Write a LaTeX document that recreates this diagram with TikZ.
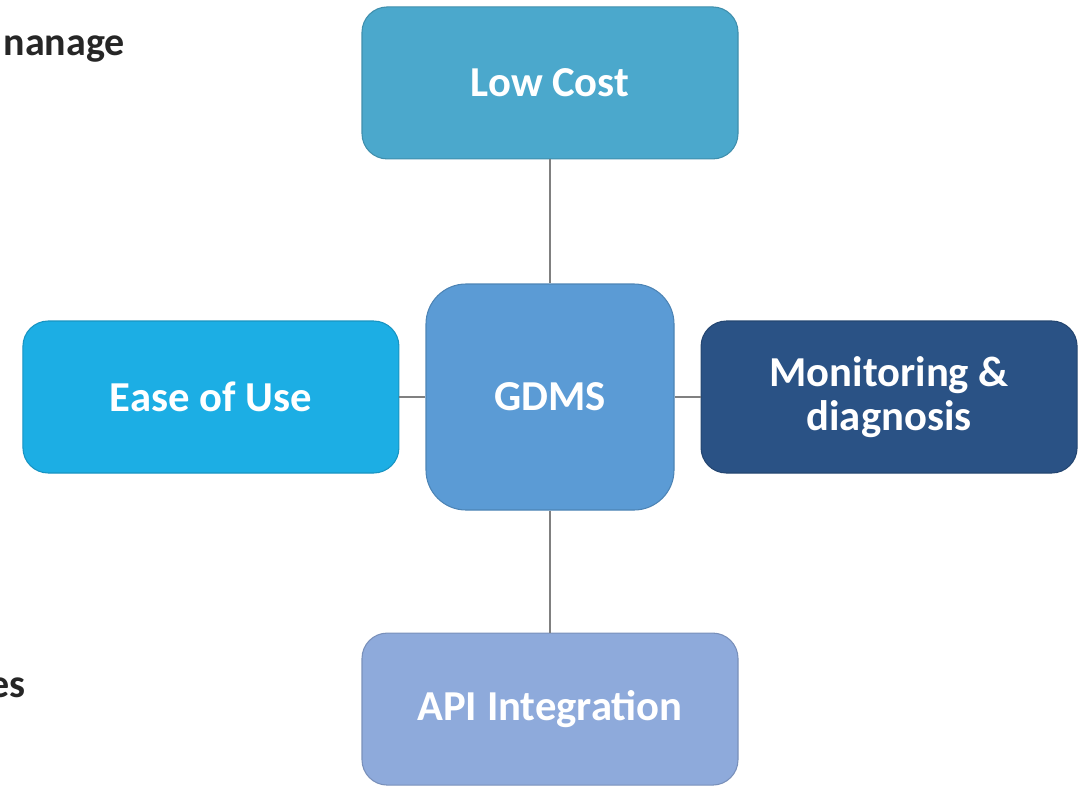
\documentclass[tikz,border=0pt]{standalone}
\usepackage{fontspec}
\setmainfont{Carlito}
\usetikzlibrary{positioning}
\definecolor{costblue}{HTML}{4BA8CC}
\definecolor{hubblue}{HTML}{5B9BD5}
\definecolor{easeblue}{HTML}{1CAEE4}
\definecolor{monblue}{HTML}{2A5285}
\definecolor{apiblue}{HTML}{8EAADB}
\begin{document}
\begin{tikzpicture}[%
    x=0.75pt,
    y=-0.75pt,
    node distance=93pt,
    box/.style={rectangle, rounded corners=19pt, draw=#1!85!black, fill=#1,
      text=white, font=\fontsize{32}{33}\selectfont\bfseries, align=center,
      inner sep=0pt, line width=0.8pt, minimum width=282pt, minimum height=114pt},
    hub/.style={box=hubblue, rounded corners=30pt, minimum width=186pt, minimum height=169.5pt},
    side/.style={font=\fontsize{30}{33}\selectfont\bfseries, text=black!85, inner sep=0pt},
    link/.style={draw=black!50, line width=1.1pt}
  ]

  \useasboundingbox (0,0) rectangle (1081,785);

  \node[hub] (GDMS) at (550,397) {GDMS};
  \node[box=costblue] (COST) [above=93pt of GDMS] {Low Cost};
  \node[box=apiblue] (API) [below=91.5pt of GDMS] {API Integration};
  \node[box=easeblue] (EASE) [left=19.5pt of GDMS] {Ease of Use};
  \node[box=monblue] (MON) [right=19.5pt of GDMS] {Monitoring \&\\diagnosis};

  % cut-off words of the slide text
  \node[side, anchor=base east] (MANAGE) at (125,55) {nanage};
  \node[side, anchor=base east] (ES) at (26,697) {es};

  \path[link]
      (GDMS)
          edge (COST)
          edge (API)
          edge (EASE)
          edge (MON);

\end{tikzpicture}
\end{document}
